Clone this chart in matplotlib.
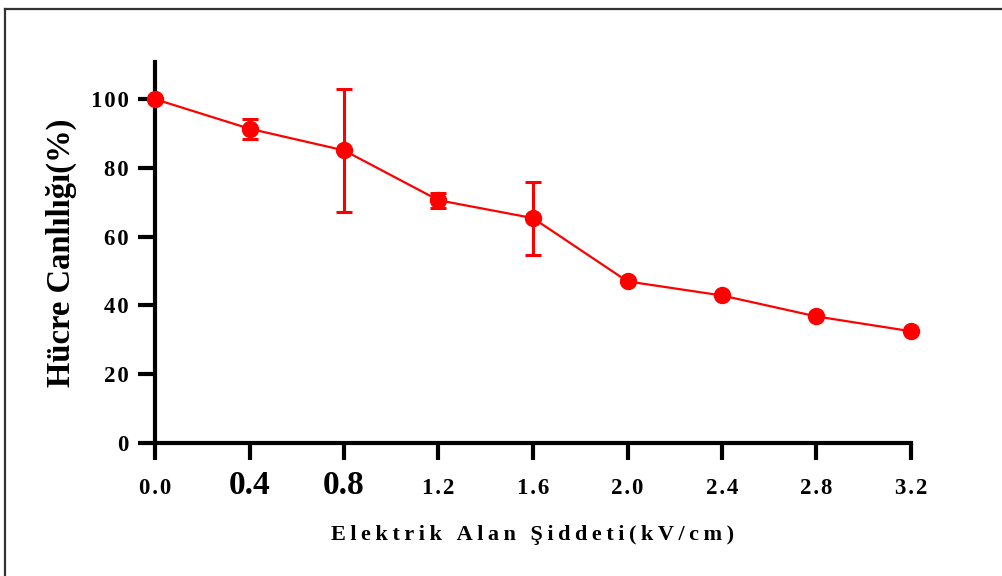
import matplotlib
matplotlib.use("Agg")
import matplotlib.pyplot as plt
from matplotlib.lines import Line2D

# data
field = [0.0, 0.4, 0.8, 1.2, 1.6, 2.0, 2.4, 2.8, 3.2]
viability = [100, 91.4, 85.1, 70.6, 65.4, 47.0, 42.9, 36.8, 32.5]
viability_err = [0, 2.9, 17.9, 2.2, 10.6, 0, 0, 0, 0]
x_ticklabels = ["0.0", "0.4", "0.8", "1.2", "1.6", "2.0", "2.4", "2.8", "3.2"]
big_ticks = {"0.4", "0.8"}
y_ticks = [0, 20, 40, 60, 80, 100]

xlabel = "Elektrik Alan Şiddeti(kV/cm)"
ylabel = "Hücre Canlılığı(%)"


def spaced(s, gap="\u200a"):
    """Loose letter spacing like the original export."""
    return gap.join(s)


plt.rcParams["font.family"] = ["Liberation Serif", "DejaVu Serif"]
plt.rcParams["font.weight"] = "bold"
plt.rcParams["axes.labelweight"] = "bold"

fig = plt.figure(figsize=(10.02, 5.76), dpi=100)
ax = fig.add_axes([155 / 1002, 1 - 443 / 576, (911 - 155) / 1002, (443 - 62) / 576])

ax.errorbar(field, viability, yerr=viability_err, color="#ff0000", lw=1.6,
            marker="o", ms=11.5, capsize=5.8, capthick=2.2, elinewidth=2.2,
            clip_on=False, zorder=3)

ax.set_xlim(0, 3.2)
ax.set_ylim(0, 110.8)

for side in ("top", "right"):
    ax.spines[side].set_visible(False)
for side in ("left", "bottom"):
    ax.spines[side].set_linewidth(3)
    ax.spines[side].set_capstyle("projecting")

ax.set_xticks(field)
ax.set_xticklabels([t if t in big_ticks else spaced(t) for t in x_ticklabels])
ax.set_yticks(y_ticks)
ax.set_yticklabels([spaced(str(v)) for v in y_ticks], fontsize=16.5)
ax.tick_params(axis="both", direction="out", length=12, width=3)
ax.tick_params(axis="y", pad=7)
ax.tick_params(axis="x", pad=25)
for lab, txt in zip(ax.get_xticklabels(), x_ticklabels):
    lab.set_verticalalignment("baseline")
    lab.set_fontsize(24 if txt in big_ticks else 16.5)

ax.set_ylabel(ylabel, fontsize=23.5, fontweight="bold", labelpad=10)
fig.text((155 + 911) / 2 / 1002, 1 - 535 / 576, spaced(xlabel, "\u2009"),
         ha="center", va="center", fontsize=16, fontweight="bold")

# outer frame (runs off the right and bottom edges in the original)
fig.add_artist(Line2D([5 / 1002, 1.0], [1 - 9 / 576] * 2,
                      transform=fig.transFigure, color="#333333", lw=1.6))
fig.add_artist(Line2D([5 / 1002] * 2, [0.0, 1 - 9 / 576],
                      transform=fig.transFigure, color="#333333", lw=1.6))

fig.savefig("out.png", dpi=100)
